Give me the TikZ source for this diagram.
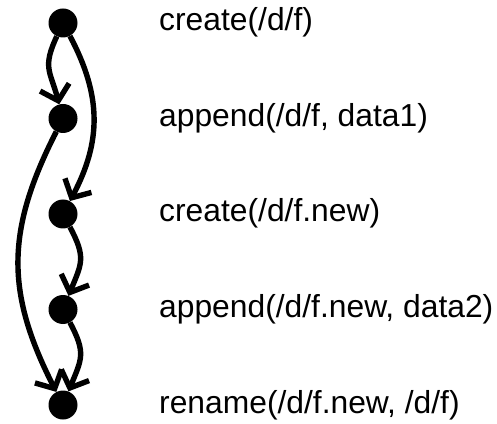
\documentclass[tikz,border=0pt]{standalone}
\usepackage{fontspec}
\setmainfont{Liberation Sans}
\usetikzlibrary{arrows.meta}
\begin{document}
\begin{tikzpicture}[x=1pt,y=1pt,
  ev/.style={circle,fill=black,minimum size=29pt,inner sep=0pt},
  lbl/.style={anchor=base west,inner sep=0pt,font=\fontsize{31.8pt}{36pt}\selectfont},
  edge/.style={line width=5.4pt,-{Straight Barb[length=14pt,width=30pt,line width=5.4pt]}}]
\useasboundingbox (0,0) rectangle (497,423);
\node[ev] (n1) at (63,400) {};
\node[ev] (n2) at (63,304.5) {};
\node[ev] (n3) at (63,209) {};
\node[ev] (n4) at (63,113.5) {};
\node[ev] (n5) at (63,18) {};
\node[lbl] (t1) at (159,392) {create(/d/f)};
\node[lbl] (t2) at (159,296.5) {append(/d/f, data1)};
\node[lbl] (t3) at (159,201) {create(/d/f.new)};
\node[lbl] (t4) at (159,105.5) {append(/d/f.new, data2)};
\node[lbl] (t5) at (159,10) {rename(/d/f.new, /d/f)};
\draw[edge] (n1) to[out=245,in=105,looseness=1.3] (n2);
\draw[edge] (n1) to[out=-62,in=62,looseness=1.05] (n3);
\draw[edge] (n2) to[out=243,in=117,looseness=1.1] (n5);
\draw[edge] (n3) to[out=-62,in=68,looseness=1.3] (n4);
\draw[edge] (n4) to[out=-62,in=68,looseness=1.3] (n5);
\end{tikzpicture}
\end{document}
